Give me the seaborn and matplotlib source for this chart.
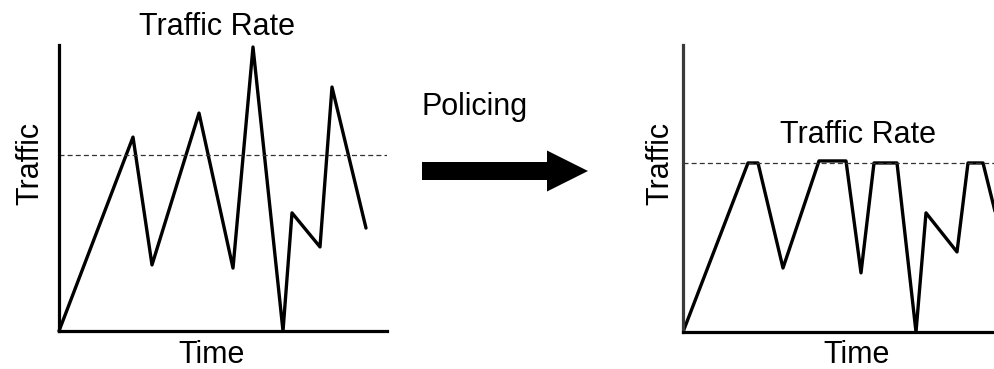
import numpy as np
import pandas as pd
import matplotlib
matplotlib.use("Agg")
import matplotlib.pyplot as plt
from matplotlib.patches import FancyArrow
import seaborn as sns

# ---- data ----
# Before policing
before_time = [0, 74, 93, 140, 174, 194, 224, 233, 261, 273, 307]
before_traffic = [0, 67.8, 23.1, 76.2, 22.0, 99.3, 0, 41.3, 29.4, 85.3, 36.0]
before_rate = 61.5
before_xmax = 328

# After policing (peaks clipped at the rate)
after_time = [0, 65, 75, 100, 136, 163, 178, 191, 214, 233, 243, 274, 285, 300, 322]
after_traffic = [0, 58.9, 58.9, 22.3, 59.6, 59.6, 20.6, 58.9, 58.9, 0, 41.5, 27.9, 58.9, 58.9, 28.0]
after_rate = 58.9
after_xmax = 317

title_text = "Traffic Rate"
xlabel_text = "Time"
ylabel_text = "Traffic"
arrow_text = "Policing"

sns.set_theme(style="white")
plt.rcParams["font.family"] = ["Liberation Sans", "DejaVu Sans"]

W, H = 994, 369
fig = plt.figure(figsize=(W / 100, H / 100), dpi=100)
fig.patch.set_facecolor("white")


def px_axes(x0, ytop, x1, ybot):
    return fig.add_axes([x0 / W, 1 - ybot / H, (x1 - x0) / W, (ybot - ytop) / H])


def style_axes(ax, xmax, left_color="black"):
    ax.set_xlim(0, xmax)
    ax.set_ylim(0, 100)
    ax.set_xticks([])
    ax.set_yticks([])
    ax.set_xlabel("")
    ax.set_ylabel("")
    ax.set_facecolor("none")
    for s in ["top", "right"]:
        ax.spines[s].set_visible(False)
    ax.spines["bottom"].set_linewidth(2.3)
    ax.spines["bottom"].set_color("black")
    ax.spines["left"].set_linewidth(2.3)
    ax.spines["left"].set_color(left_color)


# Left panel
ax1 = px_axes(59, 45, 387, 331)
df1 = pd.DataFrame({"time": before_time, "traffic": before_traffic})
sns.lineplot(data=df1, x="time", y="traffic", ax=ax1, color="black", lw=2.4,
             sort=False, estimator=None, clip_on=False)
ax1.axhline(before_rate, color="#333333", lw=0.9, ls=(0, (4, 2.5)))
style_axes(ax1, before_xmax)

# Right panel
ax2 = px_axes(683, 45, 683 + after_xmax, 332)
df2 = pd.DataFrame({"time": after_time, "traffic": after_traffic})
sns.lineplot(data=df2, x="time", y="traffic", ax=ax2, color="black", lw=2.4,
             sort=False, estimator=None)
ax2.axhline(after_rate, color="#333333", lw=0.9, ls=(0, (4, 2.5)))
style_axes(ax2, after_xmax, left_color="#3a3a3a")

# Overlay for annotations, in pixel units
ov = fig.add_axes([0, 0, 1, 1])
ov.set_xlim(0, W)
ov.set_ylim(H, 0)
ov.axis("off")
ov.patch.set_alpha(0)

fs = 22
ov.text(217, 35, title_text, ha="center", va="baseline", fontsize=fs, color="black")
ov.text(858, 143, title_text, ha="center", va="baseline", fontsize=fs, color="black")
ov.text(212, 363, xlabel_text, ha="center", va="baseline", fontsize=fs, color="black")
ov.text(857, 363, xlabel_text, ha="center", va="baseline", fontsize=fs, color="black")
ov.text(30, 163, ylabel_text, ha="center", va="center", rotation=90, fontsize=fs, color="black")
ov.text(660, 163, ylabel_text, ha="center", va="center", rotation=90, fontsize=fs, color="black")
ov.text(421, 115, arrow_text, ha="left", va="baseline", fontsize=fs, color="black")

ov.add_patch(FancyArrow(422, 171, 166, 0, width=18, head_width=41, head_length=41,
                        length_includes_head=True, color="black", lw=0))

fig.savefig("out.png", dpi=100, facecolor="white")
